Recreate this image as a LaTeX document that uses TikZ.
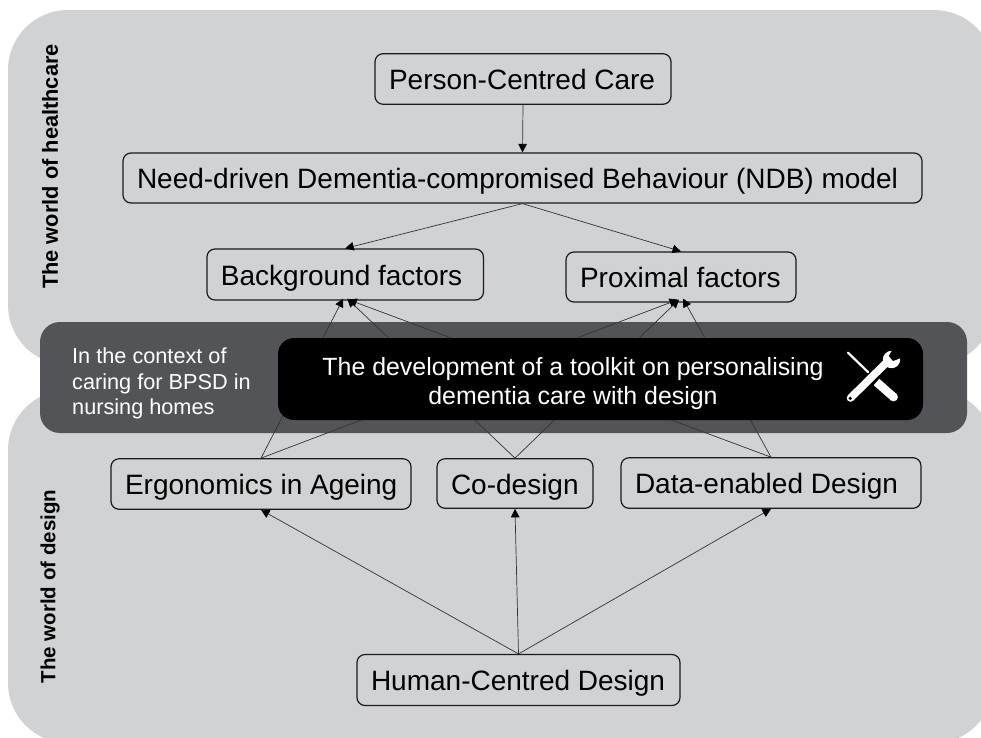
\documentclass[tikz,border=0pt]{standalone}
\usepackage{fontspec}
\setmainfont{Liberation Sans}
\usetikzlibrary{arrows.meta}
\definecolor{blobgrey}{HTML}{D1D2D4}
\definecolor{bandgrey}{HTML}{535458}
\definecolor{boxline}{HTML}{1A1A1C}
\definecolor{arrowline}{HTML}{333336}
\newcommand{\boxtext}[2]{\makebox[\dimexpr#1pt-28pt\relax][l]{#2}}
\tikzset{
  world/.style={fill=blobgrey,draw=none,rounded corners=60},
  conceptbox/.style={draw=boxline,line width=1.2pt,rounded corners=8,inner ysep=0pt,inner xsep=14pt,
    text=black,font=\fontsize{28}{32}\selectfont,anchor=center,
    minimum height=#1pt,text height=21pt,text depth=0pt},
  link/.style={draw=arrowline,line width=0.7pt,-{Triangle[length=8.5pt,width=8.5pt,color=black]}},
  worldlabel/.style={rotate=90,text=black,inner sep=0pt},
}
\begin{document}
\begin{tikzpicture}[x=1pt,y=-1pt]
\useasboundingbox (0,0) rectangle (981,737);
\clip (0,0) rectangle (981,737);
% the two worlds
\path[world] (8,10) rectangle (994,365);
\path[world] (8,390) rectangle (994,743);
\node[worldlabel,font=\fontsize{21.8}{25}\selectfont\bfseries] (wh) at (50,166.5) {The world of healthcare};
\node[worldlabel,font=\fontsize{20.5}{25}\selectfont\bfseries] (wd) at (50,586.5) {The world of design};
% concept boxes
\node[conceptbox=50.5] (pcc) at (523,79) {\boxtext{296}{Person-Centred Care}};
\node[conceptbox=50] (ndb) at (522.5,178) {\boxtext{799}{Need-driven Dementia-compromised Behaviour (NDB) model}};
\node[conceptbox=51] (bg) at (345.2,274.5) {\boxtext{276.5}{Background factors}};
\node[conceptbox=50] (prox) at (681,277) {\boxtext{230}{Proximal factors}};
\node[conceptbox=50.5] (erg) at (261,484) {\boxtext{300}{Ergonomics in Ageing}};
\node[conceptbox=49.5] (cod) at (515,483.5) {\boxtext{156}{Co-design}};
\node[conceptbox=50.5] (ded) at (771,483) {\boxtext{300}{Data-enabled Design}};
\node[conceptbox=51] (hcd) at (518.5,680) {\boxtext{323}{Human-Centred Design}};
% context band
\node[fill=bandgrey,rounded corners=20,minimum width=927pt,minimum height=111pt,inner sep=0pt] (band) at (503.5,377.5) {};
% connectors
\draw[link] (pcc.south) -- (ndb.north);
\draw[link] (ndb.south) -- (bg.north);
\draw[link] (ndb.south) -- (prox.north);
\draw[link] (hcd.north) -- (erg.south);
\draw[link] (hcd.north) -- (cod.south);
\draw[link] (hcd.north) -- (ded.south);
\draw[link] (erg.north) -- ([xshift=-2pt,yshift=2pt]bg.south);
\draw[link] (cod.north) -- ([xshift=2pt,yshift=2pt]bg.south);
\draw[link] (ded.north) -- ([xshift=3pt,yshift=1pt]bg.south);
\draw[link] (erg.north) -- ([xshift=-3pt,yshift=3pt]prox.south);
\draw[link] (cod.north) -- ([xshift=-2pt,yshift=3pt]prox.south);
\draw[link] (ded.north) -- ([xshift=2pt,yshift=4pt]prox.south);
% toolkit box
\node[fill=black,rounded corners=16,minimum width=645pt,minimum height=82pt,inner sep=0pt] (toolkit) at (600.5,379) {};
\node[text=white,align=left,anchor=west,inner sep=0pt,font=\fontsize{21.7}{25.5}\selectfont] (ctx) at (72,383.5) {In the context of\\caring for BPSD in\\nursing homes};
\node[text=white,align=center,inner sep=0pt,font=\fontsize{24.9}{29}\selectfont] (tk) at (573,384) {The development of a toolkit on personalising\\dementia care with design};
% tools icon
\draw[white,line width=2.2pt,line cap=round] (848,352.7) -- (868,372);
\draw[white,line width=8.5pt] (876.5,382) -- (893.5,397);
\fill[white] (893.5,397) circle (4.4pt);
\draw[white,line width=7.6pt,line cap=round] (850.5,398) -- (888,361);
\fill[white] (891.5,359.5) circle (8.7pt);
\fill[black] (891.7,351) -- (888.8,356) -- (893,361) -- (899.8,358.4) -- (906,350) -- (897,344) -- cycle;
\fill[black] (850.2,398.4) circle (1.8pt);
\end{tikzpicture}
\end{document}
